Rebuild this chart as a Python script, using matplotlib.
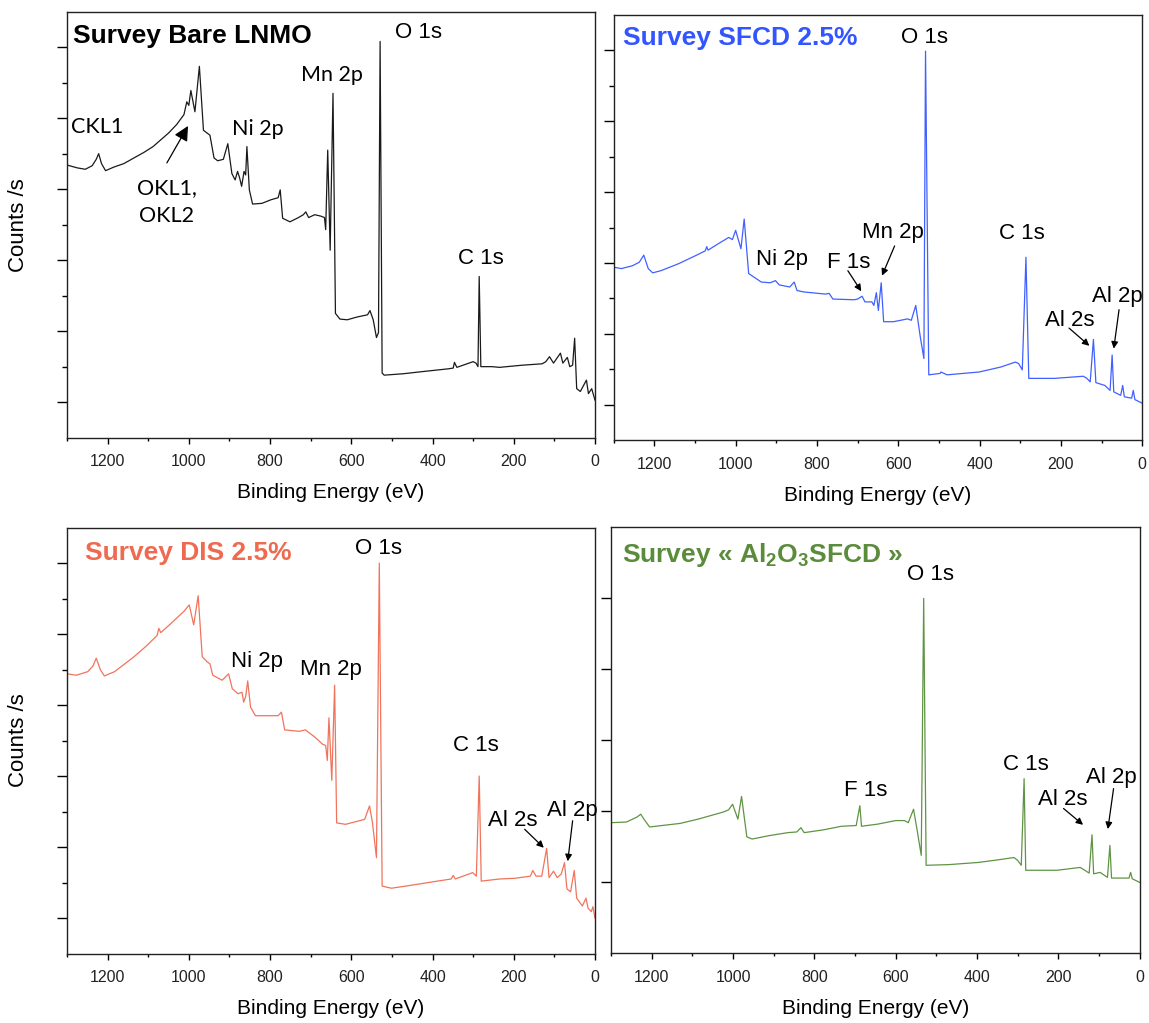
import matplotlib.pyplot as plt
from matplotlib.ticker import MultipleLocator, FixedLocator

plt.rcParams['font.family'] = ['Liberation Sans', 'DejaVu Sans']
plt.rcParams['mathtext.fontset'] = 'custom'
plt.rcParams['mathtext.rm'] = 'Liberation Sans'
plt.rcParams['mathtext.bf'] = 'Liberation Sans:bold'

# binding energy (eV) / counts (arbitrary units)
be_bare = [1300, 1275, 1255, 1238, 1228, 1222, 1215, 1205, 1185, 1160, 1135, 1110, 1088, 1070,
           1050, 1030, 1012, 1005, 1000, 995, 985, 974, 964, 955, 948, 938, 929, 915, 904, 894,
           886, 880, 875, 870, 864, 860, 857, 851, 843, 820, 798, 780, 775, 769, 751, 730, 718,
           712, 705, 690, 675, 666, 663, 658, 652, 645, 639, 628, 610, 585, 560, 554, 546, 538,
           533, 529, 524, 519, 472, 425, 360, 349, 346, 340, 300, 293, 288, 285, 281, 254, 235,
           180, 130, 121, 112, 102, 85, 79, 68, 62, 55, 50, 45, 36, 21, 16, 8, 0]
cps_bare = [3.84, 3.80, 3.78, 3.83, 3.92, 4.00, 3.86, 3.76, 3.81, 3.86, 3.94, 4.02, 4.10, 4.19,
            4.29, 4.41, 4.55, 4.73, 4.68, 4.89, 4.59, 5.23, 4.33, 4.29, 4.26, 3.94, 3.90, 3.92,
            4.14, 3.72, 3.63, 3.75, 3.66, 3.54, 3.75, 3.70, 4.10, 3.49, 3.29, 3.30, 3.35, 3.38,
            3.49, 3.09, 3.04, 3.10, 3.14, 3.18, 3.10, 3.14, 3.12, 3.10, 2.93, 4.05, 2.64, 4.85,
            1.75, 1.67, 1.66, 1.70, 1.73, 1.79, 1.66, 1.41, 1.48, 5.58, 0.91, 0.88, 0.90, 0.93,
            0.97, 0.98, 1.06, 0.99, 1.07, 1.05, 1.00, 2.27, 1.00, 1.00, 0.99, 1.02, 1.04, 1.07,
            1.14, 1.05, 1.19, 1.05, 1.13, 1.00, 1.02, 1.40, 0.69, 0.65, 0.81, 0.62, 0.69, 0.53]

be_sfcd = [1300, 1281, 1254, 1237, 1226, 1215, 1204, 1184, 1140, 1096, 1075, 1071, 1068, 1043,
           1017, 1008, 1000, 987, 979, 968, 955, 937, 915, 902, 893, 867, 856, 849, 832, 779,
           770, 761, 709, 700, 689, 682, 665, 660, 654, 649, 642, 636, 612, 577, 568, 557, 546,
           537, 533, 525, 497, 495, 480, 401, 348, 312, 304, 295, 286, 279, 216, 145, 136, 128,
           120, 114, 92, 79, 74, 70, 53, 48, 44, 26, 22, 18, 0]
cps_sfcd = [2.44, 2.42, 2.46, 2.51, 2.61, 2.42, 2.36, 2.39, 2.49, 2.61, 2.67, 2.73, 2.68, 2.77,
            2.86, 2.83, 2.96, 2.70, 3.12, 2.35, 2.30, 2.23, 2.22, 2.25, 2.19, 2.16, 2.23, 2.11,
            2.09, 2.06, 2.07, 1.99, 1.98, 1.99, 2.03, 1.95, 1.95, 1.90, 2.08, 1.83, 2.22, 1.67,
            1.67, 1.71, 1.69, 1.90, 1.46, 1.15, 5.49, 0.92, 0.94, 0.96, 0.92, 0.96, 1.03, 1.10,
            1.08, 0.99, 2.58, 0.87, 0.87, 0.90, 0.87, 0.82, 1.42, 0.81, 0.77, 0.70, 1.20, 0.68,
            0.63, 0.77, 0.61, 0.59, 0.70, 0.57, 0.52]

be_dis = [1300, 1277, 1249, 1236, 1228, 1218, 1208, 1183, 1135, 1107, 1078, 1074, 1069, 1040,
          1012, 999, 988, 977, 967, 955, 948, 941, 918, 902, 893, 879, 869, 865, 860, 855, 848,
          836, 803, 780, 772, 764, 728, 713, 690, 671, 663, 659, 655, 648, 641, 636, 614, 567,
          555, 548, 538, 531, 524, 501, 443, 377, 354, 349, 344, 301, 292, 285, 280, 235, 197,
          159, 153, 145, 131, 119, 113, 102, 93, 83, 75, 69, 60, 51, 45, 31, 22, 17, 9, 5, 0]
cps_dis = [3.94, 3.92, 3.97, 4.05, 4.16, 4.00, 3.91, 3.97, 4.18, 4.32, 4.48, 4.58, 4.52, 4.67,
           4.82, 4.91, 4.63, 5.04, 4.18, 4.11, 4.08, 3.92, 3.85, 3.94, 3.73, 3.66, 3.68, 3.54,
           3.62, 3.84, 3.47, 3.35, 3.35, 3.35, 3.40, 3.15, 3.13, 3.15, 3.05, 2.95, 2.93, 2.72,
           3.32, 2.44, 3.78, 1.84, 1.82, 1.89, 2.08, 1.85, 1.35, 5.50, 0.95, 0.92, 0.97, 1.03,
           1.05, 1.10, 1.05, 1.14, 1.09, 2.50, 1.02, 1.05, 1.06, 1.09, 1.17, 1.09, 1.09, 1.48,
           1.07, 1.16, 1.07, 1.12, 1.28, 0.91, 0.87, 1.17, 0.78, 0.67, 0.78, 0.64, 0.59, 0.66, 0.50]

be_al2o3 = [1300, 1262, 1236, 1227, 1218, 1205, 1130, 1086, 1024, 1011, 1001, 988, 979, 966,
            953, 909, 865, 843, 833, 825, 777, 733, 697, 688, 684, 644, 600, 578, 569, 556, 547,
            537, 531, 525, 468, 397, 344, 309, 300, 291, 284, 280, 203, 146, 132, 124, 117, 113,
            97, 79, 73, 69, 26, 22, 18, 0]
cps_al2o3 = [1.84, 1.85, 1.92, 1.96, 1.88, 1.78, 1.83, 1.89, 1.99, 2.02, 2.10, 1.89, 2.21, 1.64,
             1.61, 1.66, 1.70, 1.71, 1.77, 1.70, 1.74, 1.79, 1.80, 2.08, 1.79, 1.82, 1.87, 1.87,
             1.84, 2.03, 1.73, 1.38, 5.00, 1.24, 1.25, 1.28, 1.32, 1.35, 1.31, 1.24, 2.46, 1.17,
             1.17, 1.21, 1.16, 1.13, 1.67, 1.12, 1.14, 1.07, 1.52, 1.06, 1.06, 1.14, 1.05, 1.00]

fig = plt.figure(figsize=(11.49, 10.23), dpi=100)
ax1 = fig.add_axes([0.0583, 0.5722, 0.4595, 0.4164])
ax2 = fig.add_axes([0.5341, 0.5699, 0.4600, 0.4154])
ax3 = fig.add_axes([0.0583, 0.0679, 0.4595, 0.4164])
ax4 = fig.add_axes([0.5318, 0.0681, 0.4600, 0.4164])


def style(ax, half=True, ylab=False):
    ax.set_xlim(1300, 0)
    ax.set_ylim(0, 6)
    ax.xaxis.set_major_locator(MultipleLocator(200))
    ax.xaxis.set_minor_locator(MultipleLocator(100))
    if half:
        ax.yaxis.set_major_locator(FixedLocator([0.5, 1.5, 2.5, 3.5, 4.5, 5.5]))
        ax.yaxis.set_minor_locator(FixedLocator([1, 2, 3, 4, 5]))
    else:
        ax.yaxis.set_major_locator(FixedLocator([1, 2, 3, 4, 5]))
    ax.tick_params(axis='x', which='major', length=4, width=1, pad=8, labelsize=11.5,
                   labelcolor='#222222')
    ax.tick_params(axis='x', which='minor', length=2.5, width=1)
    ax.tick_params(axis='y', which='major', length=7, width=1, labelleft=False)
    ax.tick_params(axis='y', which='minor', length=3.5, width=1)
    for s in ax.spines.values():
        s.set_linewidth(1)
        s.set_color('#222222')
    ax.set_xlabel('Binding Energy (eV)', fontsize=15, labelpad=10)
    if ylab:
        ax.set_ylabel('Counts /s', fontsize=16, labelpad=20)


def arrow(ax, xy, xytext, big=False):
    ax.annotate('', xy=xy, xytext=xytext,
                arrowprops=dict(arrowstyle='-|>', color='k', lw=0.9,
                                mutation_scale=22 if big else 10, shrinkA=0, shrinkB=0))


calibri = ['Lato', 'DejaVu Sans']

# Bare LNMO
ax1.plot(be_bare, cps_bare, color='#1a1a1a', lw=0.9)
style(ax1, ylab=True)
ax1.text(0.012, 0.943, 'Survey Bare LNMO', transform=ax1.transAxes, fontsize=19,
         fontweight='bold', ha='left', va='center')
ax1.text(435, 5.71, 'O 1s', fontsize=16, ha='center', va='center')
ax1.text(647, 5.11, 'Mn 2p', fontsize=15.5, ha='center', va='center', family=calibri)
ax1.text(1226, 4.38, 'CKL1', fontsize=15.5, ha='center', va='center', family=calibri)
ax1.text(830, 4.35, 'Ni 2p', fontsize=15.5, ha='center', va='center', family=calibri)
ax1.text(1054, 3.32, 'OKL1,\nOKL2', fontsize=15.5, ha='center', va='center',
         family=calibri, linespacing=1.45)
arrow(ax1, (1002, 4.39), (1054, 3.87), big=True)
ax1.text(280, 2.53, 'C 1s', fontsize=16, ha='center', va='center')

# SFCD 2.5%
ax2.plot(be_sfcd, cps_sfcd, color='#4060ff', lw=0.9)
style(ax2)
ax2.text(0.018, 0.945, 'Survey SFCD 2.5%', transform=ax2.transAxes, fontsize=19,
         fontweight='bold', ha='left', va='center', color='#3355ff')
ax2.text(535, 5.68, 'O 1s', fontsize=16, ha='center', va='center')
ax2.text(614, 2.93, 'Mn 2p', fontsize=16, ha='center', va='center')
arrow(ax2, (640, 2.32), (609, 2.74))
ax2.text(886, 2.55, 'Ni 2p', fontsize=16, ha='center', va='center')
ax2.text(721, 2.50, 'F 1s', fontsize=16, ha='center', va='center')
arrow(ax2, (691, 2.10), (724, 2.39))
ax2.text(296, 2.92, 'C 1s', fontsize=16, ha='center', va='center')
ax2.text(179, 1.69, 'Al 2s', fontsize=16, ha='center', va='center')
arrow(ax2, (130, 1.33), (180, 1.58))
ax2.text(61, 2.02, 'Al 2p', fontsize=16, ha='center', va='center')
arrow(ax2, (70, 1.29), (57, 1.84))

# DIS 2.5%
ax3.plot(be_dis, cps_dis, color='#f0745c', lw=0.9)
style(ax3, ylab=True)
ax3.text(0.034, 0.94, 'Survey DIS 2.5%', transform=ax3.transAxes, fontsize=19,
         fontweight='bold', ha='left', va='center', color='#ee6a50')
ax3.text(533, 5.70, 'O 1s', fontsize=16, ha='center', va='center')
ax3.text(831, 4.11, 'Ni 2p', fontsize=16, ha='center', va='center')
ax3.text(651, 4.00, 'Mn 2p', fontsize=16, ha='center', va='center')
ax3.text(293, 2.93, 'C 1s', fontsize=16, ha='center', va='center')
ax3.text(202, 1.88, 'Al 2s', fontsize=16, ha='center', va='center')
arrow(ax3, (126, 1.49), (173, 1.75))
ax3.text(56, 2.01, 'Al 2p', fontsize=16, ha='center', va='center', clip_on=False)
arrow(ax3, (67, 1.30), (55, 1.87))

# Al2O3 SFCD
ax4.plot(be_al2o3, cps_al2o3, color='#5f9444', lw=0.9)
style(ax4, half=False)
ax4.text(0.02, 0.935, r'Survey « Al$_\mathbf{2}$O$_\mathbf{3}$SFCD »', transform=ax4.transAxes,
         fontsize=19, fontweight='bold', ha='left', va='center', color='#5a8c3c')
ax4.text(514, 5.34, 'O 1s', fontsize=16, ha='center', va='center')
ax4.text(674, 2.30, 'F 1s', fontsize=16, ha='center', va='center')
ax4.text(279, 2.66, 'C 1s', fontsize=16, ha='center', va='center')
ax4.text(188, 2.16, 'Al 2s', fontsize=16, ha='center', va='center')
arrow(ax4, (139, 1.81), (187, 2.04))
ax4.text(70, 2.48, 'Al 2p', fontsize=16, ha='center', va='center')
arrow(ax4, (78, 1.75), (64, 2.32))

fig.savefig('out.png', dpi=100)
